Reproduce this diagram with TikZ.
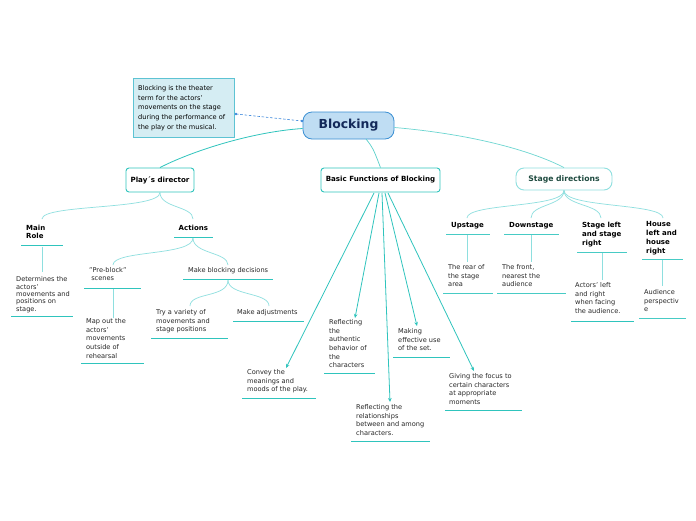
\documentclass[tikz,border=0pt]{standalone}
\usepackage{fontspec}
\setmainfont{DejaVu Sans}
\usetikzlibrary{arrows.meta}
\definecolor{teal1}{HTML}{2FC4BD}
\definecolor{teal2}{HTML}{8EDFDF}
\definecolor{rootfill}{HTML}{BFDDF3}
\definecolor{rootdraw}{HTML}{3A8FD3}
\definecolor{roottext}{HTML}{13295A}
\definecolor{notefill}{HTML}{D5EDF3}
\definecolor{notedraw}{HTML}{5DC3D3}
\definecolor{linkblue}{HTML}{3A86DB}
\definecolor{txtgray}{HTML}{262626}
\definecolor{sdtext}{HTML}{1F4B40}
\tikzset{
  txt/.style={inner sep=0pt, anchor=north west, align=left, text=txtgray,
    font=\fontsize{6.6}{8.6}\selectfont},
  hd/.style={inner sep=0pt, anchor=north west, align=left, text=black,
    font=\fontsize{7}{8.9}\selectfont\bfseries},
  ul/.style={draw=teal1, line width=1.6pt},
  ulb/.style={draw=teal1!75!teal2, line width=1.6pt},
  conn/.style={draw=teal1, line width=0.8pt},
  lconn/.style={draw=teal2, line width=0.7pt},
  arr/.style={draw=teal1, line width=0.8pt, -{Stealth[length=4pt,width=3.6pt]}},
  mainbox/.style={draw=teal1, line width=0.9pt, fill=white, rounded corners=3pt,
    font=\fontsize{7.1}{8}\selectfont\bfseries, inner sep=0pt},
}
\begin{document}
\begin{tikzpicture}[x=1pt,y=-1pt]
\useasboundingbox (0,0) rectangle (696,520);
\fill[white] (0,0) rectangle (696,520);

% root and note
\node[draw=rootdraw, fill=rootfill, line width=0.8pt, rounded corners=9pt,
  minimum width=91pt, minimum height=27pt, inner sep=0pt, text=roottext,
  font=\fontsize{12.4}{14}\selectfont\bfseries] (root) at (348.5,125.5) {Blocking};
\node[draw=notedraw, fill=notefill, line width=0.8pt, minimum width=101pt,
  minimum height=59pt, inner sep=0pt] (note) at (183.5,107.5) {};
\node[txt, text=black] (notetxt) at (138,85.5) {Blocking is the theater\\[1pt]term for the actors’\\[1pt]movements on the stage\\[1pt]during the performance of\\[1pt]the play or the musical.};
\coordinate (nl1) at (236,114);
\coordinate (nl2) at (302,121);
\draw[linkblue, line width=0.6pt, dash pattern=on 2.5pt off 1.8pt] (nl1) -- (nl2);
\fill[linkblue] (nl1) circle (1.4pt) (nl2) circle (1.4pt);

% main boxes
\node[mainbox, minimum width=68pt, minimum height=24pt] (pd) at (160,180) {Play´s director};
\node[mainbox, minimum width=119pt, minimum height=24pt] (bf) at (380.5,180) {Basic Functions of Blocking};
\node[mainbox, draw=teal2, rounded corners=8pt, text=sdtext, minimum width=96pt,
  minimum height=22pt, font=\fontsize{7.7}{9}\selectfont\bfseries] (sd) at (564,179) {Stage directions};

% root connectors
\draw[conn] (root.west) ++(0,3) .. controls (250,132) and (190,152) .. (pd.north);
\draw[lconn, draw=teal1!80] (366,139) .. controls (373,148) .. (bf.north);
\draw[lconn, draw=teal1!70] (root.east) ++(0,2) .. controls (470,134) and (530,150) .. (sd.north);

% ---------- Play's director branch
\coordinate (mr) at (42,219);
\coordinate (ac) at (193,219);
\draw[lconn] (pd.south) .. controls (160,210) and (42,204) .. (mr);
\draw[lconn] (pd.south) .. controls (160,208) and (193,206) .. (ac);
\node[hd] (mrt) at (26,224.5) {Main\\Role};
\draw[ul] (21,245.5) -- (63,245.5);
\node[hd] (act) at (178.5,224.5) {Actions};
\draw[ul] (174,237.5) -- (213,237.5);

\node[txt] (det) at (16,276.5) {Determines the\\[-1.2pt]actors’\\[-1.2pt]movements and\\[-1.2pt]positions on\\[-1.2pt]stage.};
\draw[ul] (11,316.5) -- (73,316.5);
\draw[lconn] (42,246.5) -- (42,272);

\coordinate (pb) at (113,265);
\coordinate (mb) at (228,265);
\draw[lconn] (193,238) .. controls (193,256) and (113,250) .. (pb);
\draw[lconn] (193,238) .. controls (193,254) and (228,252) .. (mb);
\node[txt] (pbt) at (89,267.5) {"Pre-block"\\[-0.5pt]\ scenes};
\draw[ul] (84,288.5) -- (141,288.5);
\node[txt] (mbt) at (188,267.5) {Make blocking decisions};
\draw[ul] (183,279.5) -- (273,279.5);

\draw[lconn] (113,289) -- (113,318);
\node[txt] (map) at (86,318.5) {Map out the\\actors’\\movements\\outside of\\rehearsal};
\draw[ul] (81,363.5) -- (144,363.5);

\coordinate (tv) at (190,306);
\coordinate (ma) at (269,306);
\draw[lconn] (228,280) .. controls (228,298) and (190,292) .. (tv);
\draw[lconn] (228,280) .. controls (228,296) and (269,292) .. (ma);
\node[txt] (tvt) at (156,309.5) {Try a variety of\\movements and\\stage positions};
\draw[ul] (151,338.5) -- (228,338.5);
\node[txt] (mat) at (237,309.5) {Make adjustments};
\draw[ul] (233,321.5) -- (304,321.5);

% ---------- Basic functions branch
\coordinate (a1) at (286,368);
\coordinate (a2) at (355,318);
\coordinate (a3) at (390,402);
\coordinate (a4) at (417,326);
\coordinate (a5) at (474,371);
\draw[arr] (374,193) -- (a1);
\draw[arr] (379,193) -- (a2);
\draw[arr] (382,193) -- (a3);
\draw[arr] (385,193) -- (a4);
\draw[arr] (388,193) -- (a5);

\node[txt] (cv) at (247,369.5) {Convey the\\meanings and\\moods of the play.};
\draw[ul] (242,398.5) -- (316,398.5);
\node[txt] (ra) at (329,319.5) {Reflecting\\the\\authentic\\behavior of\\the\\characters};
\draw[ul] (324,373.5) -- (375,373.5);
\node[txt] (rr) at (356,404.5) {Reflecting the\\relationships\\between and among\\characters.};
\draw[ul] (351,441.5) -- (430,441.5);
\node[txt] (me) at (398,328.5) {Making\\effective use\\of the set.};
\draw[ul] (393,357.5) -- (450,357.5);
\node[txt] (gf) at (449,373.5) {Giving the focus to\\certain characters\\at appropriate\\moments};
\draw[ul] (445,410.5) -- (522,410.5);

% ---------- Stage directions branch
\coordinate (up) at (467,218);
\coordinate (dn) at (531,218);
\coordinate (sl) at (601,218);
\coordinate (hl) at (663,218);
\draw[lconn] (sd.south) .. controls (564,208) and (467,203) .. (up);
\draw[lconn] (sd.south) .. controls (564,206) and (531,204) .. (dn);
\draw[lconn] (sd.south) .. controls (564,206) and (601,204) .. (sl);
\draw[lconn] (sd.south) .. controls (564,208) and (663,203) .. (hl);

\node[hd] (upt) at (451,222) {Upstage};
\draw[ulb] (446,234.5) -- (490,234.5);
\node[hd] (dnt) at (509,222) {Downstage};
\draw[ulb] (504,234.5) -- (559,234.5);
\node[hd] (slt) at (582,222) {Stage left\\and stage\\right};
\draw[ulb] (577,252.5) -- (627,252.5);
\node[hd] (hlt) at (646,221) {House\\left and\\house\\right};
\draw[ulb] (642,259.5) -- (683,259.5);

\draw[lconn] (467,235) -- (467,262);
\draw[lconn] (531,235) -- (531,262);
\draw[lconn] (602,253) -- (602,280);
\draw[lconn] (662,260) -- (662,286);

\node[txt] (rear) at (448,264.5) {The rear of\\the stage\\area};
\draw[ulb] (443,293.5) -- (493,293.5);
\node[txt] (front) at (502,264.5) {The front,\\nearest the\\audience};
\draw[ulb] (497,293.5) -- (566,293.5);
\node[txt] (alr) at (575,282.5) {Actors’ left\\and right\\when facing\\the audience.};
\draw[ul] (571,321.5) -- (634,321.5);
\node[txt] (aud) at (644,289.5) {Audience\\perspectiv\\e};
\draw[ulb] (639,318.5) -- (686,318.5);
\end{tikzpicture}
\end{document}
